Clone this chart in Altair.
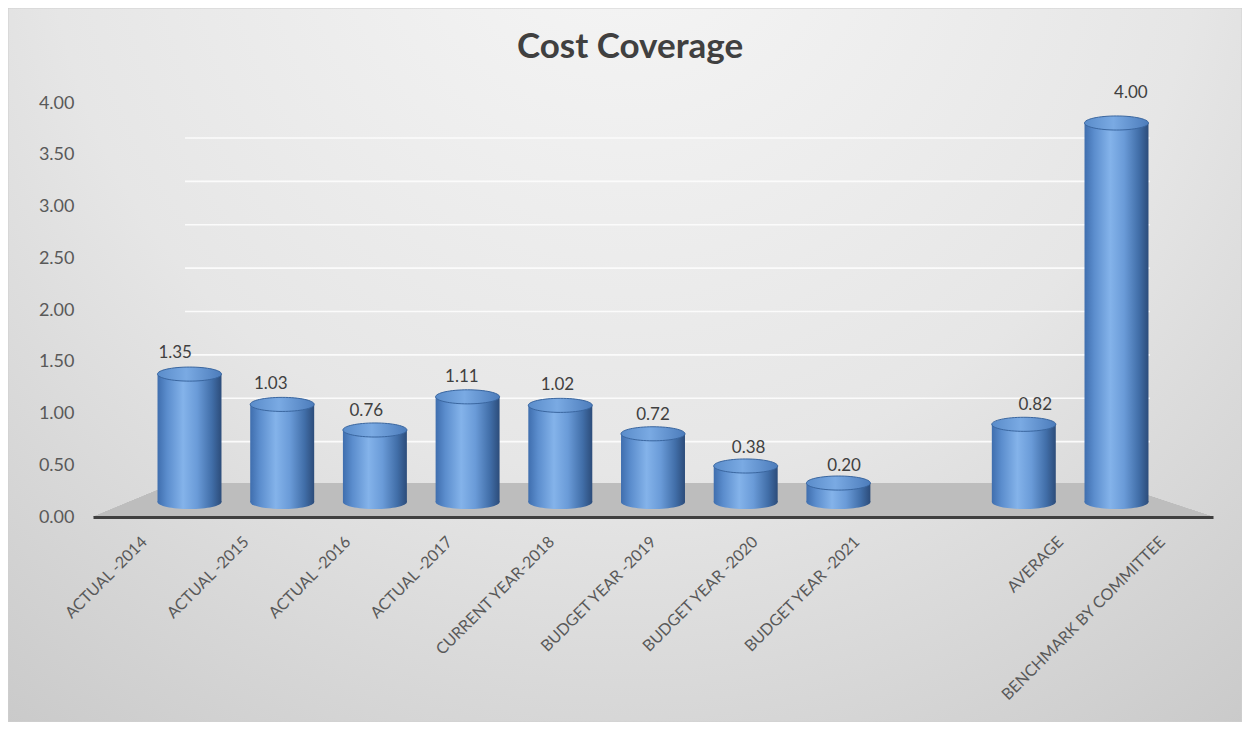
import altair as alt
import pandas as pd

# ---- data ----
title_text = ["Cost Coverage"]
categories = ["ACTUAL -2014", "ACTUAL -2015", "ACTUAL -2016", "ACTUAL -2017",
              "CURRENT YEAR-2018", "BUDGET YEAR -2019", "BUDGET YEAR -2020",
              "BUDGET YEAR -2021", " ", "AVERAGE", "BENCHMARK BY COMMITTEE"]
bar_categories = ["ACTUAL -2014", "ACTUAL -2015", "ACTUAL -2016", "ACTUAL -2017",
                  "CURRENT YEAR-2018", "BUDGET YEAR -2019", "BUDGET YEAR -2020",
                  "BUDGET YEAR -2021", "AVERAGE", "BENCHMARK BY COMMITTEE"]
values = [1.35, 1.03, 0.76, 1.11, 1.02, 0.72, 0.38, 0.20, 0.82, 4.00]
y_ticks = [0.0, 0.5, 1.0, 1.5, 2.0, 2.5, 3.0, 3.5, 4.0]
grid_values = [0.5, 1.0, 1.5, 2.0, 2.5, 3.0, 3.5, 4.0]

df = pd.DataFrame({"cat": bar_categories, "value": values})
grid_df = pd.DataFrame({"g": grid_values})
title_df = pd.DataFrame({"t": title_text})

W, H = 1120, 414
PAD = {"left": 85, "top": 95, "right": 29, "bottom": 205}
FONT = "Lato"

bar_grad = alt.LinearGradient(
    gradient="linear", x1=0, x2=1, y1=0, y2=0,
    stops=[alt.GradientStop(color="#3f6eae", offset=0),
           alt.GradientStop(color="#5b8dcd", offset=0.15),
           alt.GradientStop(color="#84b3ea", offset=0.4),
           alt.GradientStop(color="#6a9bd8", offset=0.62),
           alt.GradientStop(color="#416ea8", offset=0.85),
           alt.GradientStop(color="#2c4c7a", offset=1)])
top_grad = alt.LinearGradient(
    gradient="linear", x1=0, x2=1, y1=0, y2=0,
    stops=[alt.GradientStop(color="#5a8cca", offset=0),
           alt.GradientStop(color="#7aaae3", offset=0.45),
           alt.GradientStop(color="#4c7cbb", offset=1)])
bg_grad = alt.RadialGradient(
    gradient="radial", x1=0.5, y1=0.12, r1=0, x2=0.5, y2=0.12, r2=0.85,
    stops=[alt.GradientStop(color="#f6f6f6", offset=0),
           alt.GradientStop(color="#e6e6e6", offset=0.55),
           alt.GradientStop(color="#c9c9c9", offset=1)])

k = 0.22
c = 0.5523
ellipse = (f"M -1 0 C -1 {-c*k:.4f} {-c:.4f} {-k} 0 {-k} "
           f"C {c:.4f} {-k} 1 {-c*k:.4f} 1 0 "
           f"C 1 {c*k:.4f} {c:.4f} {k} 0 {k} "
           f"C {-c:.4f} {k} -1 {c*k:.4f} -1 0 Z")
floor_path = "M -1 0.0304 L -0.8536 -0.0304 L 0.816 -0.0304 L 1 0.0304 Z"

base = alt.Chart(df)

# background panel
bg = base.mark_rect(fill=bg_grad, stroke="#d0d0d0").encode(
    x=alt.value(-PAD["left"]), x2=alt.value(W + PAD["right"]),
    y=alt.value(-PAD["top"]), y2=alt.value(H + PAD["bottom"]))

# 3D floor
floor = base.mark_point(shape=floor_path, size=W ** 2, filled=True,
                        fill="#bdbdbd", opacity=1, strokeWidth=0).encode(
    x=alt.value(W / 2), y=alt.value(397))

# back-wall gridlines
grid_scale = alt.Scale(domain=[-0.369, 4.403], nice=False, zero=False)
grid = alt.Chart(grid_df).mark_rule(color="#fbfbfb", strokeWidth=1.6).encode(
    y=alt.Y("g:Q", scale=grid_scale, axis=None),
    x=alt.value(92), x2=alt.value(1057))

# axes layer (front plane)
axis_layer = base.mark_point(opacity=0).encode(
    x=alt.X("cat:N", sort=None,
            scale=alt.Scale(domain=categories, paddingInner=0, paddingOuter=0),
            axis=alt.Axis(title=None, labelAngle=-45, labelAlign="right",
                          labelBaseline="middle", labelPadding=22,
                          labelFontSize=16, labelColor="#595959",
                          labelFont=FONT, labelLimit=0, ticks=False,
                          domainColor="#3f3f3f", domainWidth=3, grid=False,
                          zindex=1)),
    y=alt.Y("value:Q", scale=alt.Scale(domain=[0, 4], nice=False),
            axis=alt.Axis(title=None, values=y_ticks, format=".2f",
                          labelFontSize=18, labelColor="#595959",
                          labelFont=FONT, labelPadding=19, ticks=False,
                          domain=False, grid=False, zindex=1)))

# cylinders
bx = alt.X("cat:N", sort=None,
           scale=alt.Scale(domain=categories, paddingInner=0.31,
                           paddingOuter=0.696), axis=None)
by_scale = alt.Scale(domain=[-0.1583, 4.2111], nice=False, zero=False)
bottom = base.mark_point(shape=ellipse, size=4096, filled=True, fill=bar_grad,
                         opacity=1, strokeWidth=0).encode(
    x=bx, y=alt.Y("zero:Q", scale=by_scale, axis=None)
).transform_calculate(zero="0")
body = base.mark_bar(color=bar_grad).encode(
    x=bx, y=alt.Y("value:Q", scale=by_scale, axis=None), y2=alt.datum(0))
top = base.mark_point(shape=ellipse, size=4096, filled=True, fill=top_grad,
                      opacity=1, stroke="#3a669f", strokeWidth=1).encode(
    x=bx, y=alt.Y("value:Q", scale=by_scale, axis=None))
cyl = alt.layer(bottom, body, top)

# value labels
text = base.mark_text(fontSize=17, color="#404040", font=FONT,
                      baseline="alphabetic").encode(
    x=alt.X("cat:N", sort=None,
            scale=alt.Scale(type="point", domain=categories, padding=0.86),
            axis=None),
    y=alt.Y("value:Q", scale=alt.Scale(domain=[-0.27, 3.949], nice=False,
                                       zero=False), axis=None),
    text=alt.Text("value:Q", format=".2f"))

# chart title
title = alt.Chart(title_df).mark_text(
    fontSize=35, font=FONT, fontWeight="bold", color="#404040",
    align="center", baseline="alphabetic").encode(
    text="t:N", x=alt.value(W / 2 - 23), y=alt.value(-45))

chart = alt.layer(bg, floor, grid, axis_layer, cyl, text, title).resolve_scale(
    x="independent", y="independent"
).properties(
    width=W, height=H,
    autosize=alt.AutoSizeParams(type="none"),
    padding=PAD,
).configure_view(stroke=None).configure(background="#ffffff")

chart.save("out.html", embed_options={"renderer": "svg", "actions": False})
